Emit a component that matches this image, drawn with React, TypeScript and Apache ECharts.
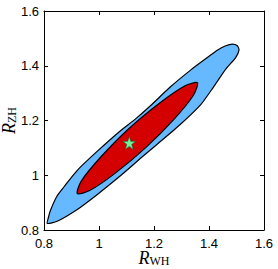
import React, { useEffect, useRef } from "react";
import * as echarts from "echarts";

// Outer (light blue) contour
const outerX = [0.812, 0.848, 0.921, 0.994, 1.079, 1.164, 1.285, 1.370, 1.418, 1.461, 1.497, 1.509, 1.503, 1.485, 1.461, 1.430, 1.394, 1.333, 1.261, 1.185, 1.133, 1.076, 0.994, 0.921, 0.873, 0.848, 0.824, 0.815];
const outerY = [0.824, 0.832, 0.875, 0.930, 0.999, 1.073, 1.176, 1.258, 1.325, 1.388, 1.430, 1.457, 1.473, 1.479, 1.473, 1.457, 1.430, 1.384, 1.324, 1.252, 1.206, 1.161, 1.088, 1.018, 0.958, 0.925, 0.873, 0.842];

// Inner (red) contour
const innerX = [1.358, 1.344, 1.275, 1.171, 1.057, 0.966, 0.921, 0.935, 1.004, 1.108, 1.222, 1.313];
const innerY = [1.338, 1.293, 1.207, 1.102, 1.006, 0.944, 0.933, 0.978, 1.064, 1.170, 1.265, 1.327];

// Best-fit point (star)
const bestX = [1.11];
const bestY = [1.118];

const axisMin = 0.8;
const axisMax = 1.6;
const tickStep = 0.2;

const STAR = "path://M50,2 L61,36 L97,36 L68,57 L79,92 L50,71 L21,92 L32,57 L3,36 L39,36 Z";

function contourSeries(xs: number[], ys: number[], fill: string, z: number) {
  return {
    type: "custom",
    z,
    data: [[xs[0], ys[0]]],
    renderItem: (_params: any, api: any) => {
      const pts = xs.map((x, i) => api.coord([x, ys[i]]));
      return {
        type: "polygon",
        shape: { points: pts, smooth: 0.25 },
        style: { fill, stroke: "#000", lineWidth: 1.2 },
      };
    },
  };
}

export default function App() {
  const ref = useRef<HTMLDivElement>(null);
  useEffect(() => {
    if (!ref.current) return;
    const chart = echarts.init(ref.current, null, { renderer: "svg" });
    const labelFmt = (v: number) => String(parseFloat(v.toFixed(1)));
    const tickLabel = {
      color: "#000",
      fontFamily: "Liberation Sans, Arial, sans-serif",
      fontSize: 13,
      formatter: labelFmt,
    };
    const common = {
      type: "value",
      min: axisMin,
      max: axisMax,
      interval: tickStep,
      splitLine: { show: false },
      axisLine: { show: true, onZero: false, lineStyle: { color: "#000", width: 1 } },
      axisTick: { show: true, inside: true, length: 4, lineStyle: { color: "#000" } },
    };
    const rich = {
      r: { fontFamily: "Liberation Serif, Times New Roman, serif", fontStyle: "italic", fontSize: 18, lineHeight: 18, color: "#000" },
      s: { fontFamily: "Liberation Serif, Times New Roman, serif", fontSize: 12, lineHeight: 12, color: "#000", padding: [5, 0, 0, 0] },
    };
    chart.setOption({
      animation: false,
      grid: { left: 44, right: 14, top: 11, bottom: 39, containLabel: false, outerBoundsMode: "none" },
      xAxis: [
        {
          ...common,
          position: "bottom",
          axisLabel: { ...tickLabel, margin: 7 },
          name: "{r|R}{s|WH}",
          nameLocation: "middle",
          nameGap: 19,
          nameMoveOverlap: false,
          nameTextStyle: { rich },
        },
        { ...common, position: "top", axisLabel: { show: false } },
      ],
      yAxis: [
        {
          ...common,
          position: "left",
          axisLabel: { ...tickLabel, margin: 5 },
          name: "{r|R}{s|ZH}",
          nameLocation: "middle",
          nameGap: 26,
          nameRotate: 90,
          nameMoveOverlap: false,
          nameTextStyle: { rich },
        },
        { ...common, position: "right", axisLabel: { show: false } },
      ],
      series: [
        contourSeries(outerX, outerY, "#66B8FF", 2),
        contourSeries(innerX, innerY, "#D40000", 3),
        {
          type: "scatter",
          z: 5,
          symbol: STAR,
          symbolSize: 13,
          data: bestX.map((x, i) => [x, bestY[i]]),
          itemStyle: { color: "#74F29A", borderColor: "#1a5a2a", borderWidth: 0.6, opacity: 1 },
        },
      ],
    });
    return () => chart.dispose();
  }, []);
  return (
    <div
      ref={ref}
      style={{ position: "fixed", left: 0, top: 0, width: 278, height: 269, background: "#fff" }}
    />
  );
}
